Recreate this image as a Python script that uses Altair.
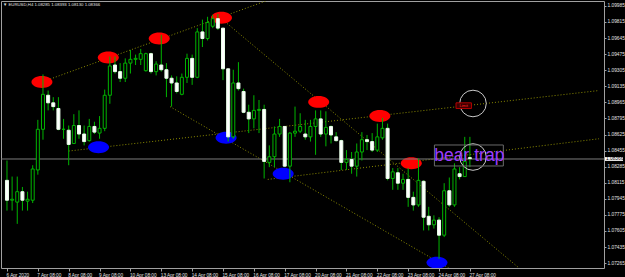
import altair as alt
import pandas as pd

# ---------------- data ----------------
bar_index = list(range(91))
opens = [1.0814, 1.0793, 1.0791, 1.0802, 1.0792, 1.0793, 1.0825, 1.0868, 1.0904, 1.0896,
         1.0890, 1.0868, 1.0867, 1.0853, 1.0872, 1.0863, 1.0856, 1.0871, 1.0864, 1.0869,
         1.0904, 1.0936, 1.0929, 1.0922, 1.0938, 1.0942, 1.0942, 1.0930, 1.0948, 1.0929,
         1.0936, 1.0931, 1.0922, 1.0917, 1.0905, 1.0923, 1.0943, 1.0923, 1.0971, 1.0964,
         1.0977, 1.0985, 1.0975, 1.0932, 1.0860, 1.0917, 1.0908, 1.0886, 1.0879, 1.0888,
         1.0889, 1.0833, 1.0839, 1.0863, 1.0871, 1.0829, 1.0864, 1.0866, 1.0863, 1.0860,
         1.0871, 1.0879, 1.0863, 1.0871, 1.0860, 1.0856, 1.0833, 1.0836, 1.0829, 1.0844,
         1.0857, 1.0855, 1.0846, 1.0859, 1.0869, 1.0816, 1.0822, 1.0811, 1.0815, 1.0796,
         1.0788, 1.0813, 1.0776, 1.0767, 1.0772, 1.0756, 1.0803, 1.0788, 1.0821, 1.0818,
         1.0838]
highs = [1.0835, 1.0818, 1.0818, 1.0807, 1.0802, 1.0830, 1.0878, 1.0926, 1.0909, 1.0902,
         1.0902, 1.0879, 1.0872, 1.0884, 1.0888, 1.0872, 1.0879, 1.0876, 1.0882, 1.0910,
         1.0945, 1.0945, 1.0938, 1.0943, 1.0952, 1.0947, 1.0953, 1.0949, 1.0949, 1.0940,
         1.0968, 1.0938, 1.0925, 1.0924, 1.0927, 1.0948, 1.0947, 1.0975, 1.0984, 1.0987,
         1.0989, 1.0990, 1.0975, 1.0932, 1.0931, 1.0939, 1.0911, 1.0894, 1.0904, 1.0899,
         1.0894, 1.0851, 1.0871, 1.0879, 1.0871, 1.0865, 1.0892, 1.0885, 1.0878, 1.0878,
         1.0888, 1.0888, 1.0887, 1.0872, 1.0865, 1.0857, 1.0846, 1.0844, 1.0853, 1.0865,
         1.0862, 1.0864, 1.0874, 1.0880, 1.0874, 1.0827, 1.0827, 1.0821, 1.0827, 1.0802,
         1.0837, 1.0814, 1.0786, 1.0777, 1.0775, 1.0811, 1.0817, 1.0832, 1.0828, 1.0860,
         1.0860]
lows = [1.0782, 1.0782, 1.0768, 1.0782, 1.0782, 1.0790, 1.0820, 1.0857, 1.0888, 1.0888,
        1.0867, 1.0858, 1.0830, 1.0853, 1.0858, 1.0851, 1.0855, 1.0863, 1.0858, 1.0866,
        1.0895, 1.0927, 1.0918, 1.0918, 1.0927, 1.0936, 1.0936, 1.0929, 1.0927, 1.0925,
        1.0929, 1.0902, 1.0892, 1.0906, 1.0904, 1.0917, 1.0915, 1.0922, 1.0955, 1.0962,
        1.0975, 1.0973, 1.0920, 1.0855, 1.0858, 1.0909, 1.0885, 1.0864, 1.0869, 1.0864,
        1.0816, 1.0828, 1.0828, 1.0860, 1.0828, 1.0812, 1.0860, 1.0864, 1.0857, 1.0855,
        1.0841, 1.0860, 1.0850, 1.0853, 1.0855, 1.0825, 1.0825, 1.0821, 1.0818, 1.0835,
        1.0846, 1.0844, 1.0844, 1.0857, 1.0814, 1.0804, 1.0804, 1.0804, 1.0786, 1.0782,
        1.0786, 1.0761, 1.0761, 1.0763, 1.0731, 1.0754, 1.0786, 1.0786, 1.0815, 1.0818,
        1.0828]
closes = [1.0793, 1.0794, 1.0802, 1.0793, 1.0794, 1.0826, 1.0868, 1.0905, 1.0896, 1.0892,
          1.0868, 1.0868, 1.0852, 1.0872, 1.0863, 1.0855, 1.0871, 1.0865, 1.0869, 1.0904,
          1.0935, 1.0929, 1.0922, 1.0938, 1.0942, 1.0943, 1.0948, 1.0948, 1.0929, 1.0937,
          1.0931, 1.0922, 1.0917, 1.0908, 1.0923, 1.0943, 1.0923, 1.0971, 1.0964, 1.0981,
          1.0985, 1.0975, 1.0932, 1.0860, 1.0917, 1.0911, 1.0886, 1.0879, 1.0888, 1.0889,
          1.0834, 1.0839, 1.0863, 1.0871, 1.0829, 1.0864, 1.0866, 1.0871, 1.0860, 1.0871,
          1.0879, 1.0863, 1.0870, 1.0862, 1.0856, 1.0833, 1.0836, 1.0829, 1.0844, 1.0857,
          1.0855, 1.0846, 1.0860, 1.0869, 1.0816, 1.0823, 1.0811, 1.0815, 1.0796, 1.0788,
          1.0814, 1.0775, 1.0767, 1.0772, 1.0756, 1.0803, 1.0788, 1.0826, 1.0818, 1.0834,
          1.0837]

price_ticks = [1.07265, 1.07435, 1.07605, 1.07775, 1.07945, 1.08115, 1.08285, 1.08455,
               1.08625, 1.08795, 1.08965, 1.09135, 1.09305, 1.09475, 1.09645, 1.09815, 1.09985]
time_tick_bars = [0, 6, 12, 18, 24, 30, 36, 42, 48, 54, 60, 66, 72, 78, 84, 90]
time_tick_labels = ["6 Apr 2020", "7 Apr 08:00", "8 Apr 08:00", "9 Apr 08:00", "10 Apr 08:00",
                    "13 Apr 08:00", "14 Apr 08:00", "15 Apr 08:00", "16 Apr 08:00", "17 Apr 08:00",
                    "20 Apr 08:00", "21 Apr 08:00", "22 Apr 08:00", "23 Apr 08:00", "24 Apr 08:00",
                    "27 Apr 08:00"]

# marked swing points (bar index, price)
red_i = [6.8, 19.7, 29.6, 41.7, 60.6, 72.5, 78.6]
red_p = [1.0918, 1.0944, 1.0964, 1.0986, 1.0897, 1.0882, 1.0832]
blue_i = [17.8, 42.6, 53.7, 83.6]
blue_p = [1.0849, 1.0859, 1.0821, 1.0727]

# trend lines: id, start bar, start price, end bar, end price
line_ids = ["a", "b", "c", "d", "e"]
line_i0 = [7.3, 12.0, 41.9, 31.7, 50.7]
line_p0 = [1.0919, 1.0845, 1.0984, 1.0892, 1.0815]
line_i1 = [51.0, 115.1, 99.4, 86.6, 115.1]
line_p1 = [1.1005, 1.0909, 1.0722, 1.0719, 1.0858]

current_price = 1.08366
header = "\u25bc EURUSD,H4  1.08285 1.08393 1.08130 1.08366"

# ---------------- tables ----------------
df = pd.DataFrame({"i": bar_index, "open": opens, "high": highs, "low": lows, "close": closes})
df["dir"] = ["up" if c >= o else "down" for o, c in zip(opens, closes)]

pts = pd.DataFrame({
    "i": red_i + blue_i,
    "p": red_p + blue_p,
    "kind": ["red"] * len(red_i) + ["blue"] * len(blue_i),
})
lines = pd.DataFrame({
    "line": line_ids + line_ids,
    "i": line_i0 + line_i1,
    "p": line_p0 + line_p1,
})

GREEN = "#00b400"
xscale = alt.Scale(domain=[-0.19, 115.1], nice=False, zero=False)
yscale = alt.Scale(domain=[1.07213, 1.10037], nice=False, zero=False)

label_arr = "[" + ",".join("'%s'" % s for s in time_tick_labels) + "]"
xaxis = alt.Axis(values=time_tick_bars, labelExpr=label_arr + "[round(datum.value/6)]",
                 title=None, grid=False, domain=False, tickSize=3, tickColor="#a0a0a0",
                 labelAlign="left", labelBaseline="top", labelPadding=1, labelOffset=-1,
                 labelFontSize=4.7, labelColor="#e4e4e4", labelFont="Liberation Sans",
                 labelOverlap=False, labelFlush=False)
yaxis = alt.Axis(values=price_ticks, format=".5f", orient="right", title=None, grid=False,
                 domain=False, tickSize=2, tickColor="#a0a0a0", labelPadding=1,
                 labelFontSize=4.8, labelColor="#e4e4e4", labelFont="Liberation Sans",
                 labelOverlap=False, labelFlush=False, labelBaseline="middle")


def X(f):
    return alt.X(f, type="quantitative", scale=xscale, axis=xaxis)


def Y(f):
    return alt.Y(f, type="quantitative", scale=yscale, axis=yaxis)


ELLIPSE = "M -1 0 A 1 0.57 0 1 0 1 0 A 1 0.57 0 1 0 -1 0 Z"

ellipses = alt.Chart(pts).mark_point(shape=ELLIPSE, size=441, filled=True, opacity=1,
                                     strokeWidth=0, clip=True).encode(
    x=X("i"), y=Y("p"),
    color=alt.Color("kind:N", scale=alt.Scale(domain=["red", "blue"], range=["#ff0000", "#0000ff"]),
                    legend=None),
)

trend = alt.Chart(lines).mark_line(strokeDash=[1, 2], color="#8c8c00", strokeWidth=1, clip=True).encode(
    x=X("i"), y=Y("p"), detail="line:N"
)

price_line = alt.Chart(pd.DataFrame({"p": [current_price]})).mark_rule(
    color="#7c7c7c", strokeWidth=1).encode(y=Y("p"))

wicks = alt.Chart(df).mark_rule(color=GREEN, strokeWidth=1, clip=True).encode(
    x=X("i"), y=Y("low"), y2="high")

bodies = alt.Chart(df).mark_bar(size=3, strokeWidth=1, clip=True).encode(
    x=X("i"), y=Y("open"), y2="close",
    fill=alt.Color("dir:N", scale=alt.Scale(domain=["up", "down"], range=["#000000", "#ffffff"]),
                   legend=None),
    stroke=alt.Color("dir:N", scale=alt.Scale(domain=["up", "down"], range=[GREEN, "#e8ffe8"]),
                     legend=None),
)

# annotations
circles = alt.Chart(pd.DataFrame({"i": [90.6, 90.6], "p": [1.08953, 1.08387]})).mark_point(
    shape="circle", size=707, filled=False, color="#c8c8c8", strokeWidth=1, opacity=1).encode(
    x=X("i"), y=Y("p"))

limit_box = alt.Chart(pd.DataFrame({"i": [87.3], "i2": [90.3], "p": [1.0896], "p2": [1.0890]})).mark_rect(
    fill="#3a0000", stroke="#b00000", strokeWidth=1).encode(
    x=X("i"), x2="i2", y=Y("p"), y2="p2")
limit_text = alt.Chart(pd.DataFrame({"i": [88.8], "p": [1.0893], "t": ["Limit"]})).mark_text(
    fontSize=4, color="#ff2020", font="Liberation Sans").encode(x=X("i"), y=Y("p"), text="t:N")

trap_box = alt.Chart(pd.DataFrame({"i": [83.1], "i2": [96.5], "p": [1.08514], "p2": [1.08292]})).mark_rect(
    fillOpacity=0, stroke="#6a6a6a", strokeWidth=1).encode(
    x=X("i"), x2="i2", y=Y("p"), y2="p2")
trap_text = alt.Chart(pd.DataFrame({"i": [89.9], "p": [1.08345], "t": ["bear trap"]})).mark_text(
    fontSize=17.5, color="#9b3cff", font="Liberation Sans", align="center", baseline="alphabetic").encode(
    x=X("i"), y=Y("p"), text="t:N")

cur_box = alt.Chart(pd.DataFrame({"p": [current_price + 0.0002], "p2": [current_price - 0.0002]})).mark_rect(
    fill="#ffffff", clip=False).encode(x=alt.value(604), x2=alt.value(622), y=Y("p"), y2="p2")
cur_text = alt.Chart(pd.DataFrame({"p": [current_price], "t": ["1.08366"]})).mark_text(
    fontSize=4.8, color="#000000", font="Liberation Sans", align="left", baseline="middle").encode(
    x=alt.value(605), y=Y("p"), text="t:N")

head = alt.Chart(pd.DataFrame({"t": [header]})).mark_text(
    fontSize=4.3, color="#e0e0e0", font="Liberation Sans", align="left", baseline="middle").encode(
    x=alt.value(2), y=alt.value(4), text="t:N")

chart = alt.layer(
    trend, ellipses, price_line, wicks, bodies, circles, limit_box, limit_text,
    trap_box, trap_text, cur_box, cur_text, head
).properties(
    width=603, height=267, background="#000000",
    padding={"left": 1, "top": 1, "right": 21, "bottom": 9},
    autosize=alt.AutoSizeParams(type="none"),
).configure_view(stroke="#a0a0a0", strokeWidth=1, fill="#000000")

chart.save("out.html", embed_options={"renderer": "svg", "actions": False})
